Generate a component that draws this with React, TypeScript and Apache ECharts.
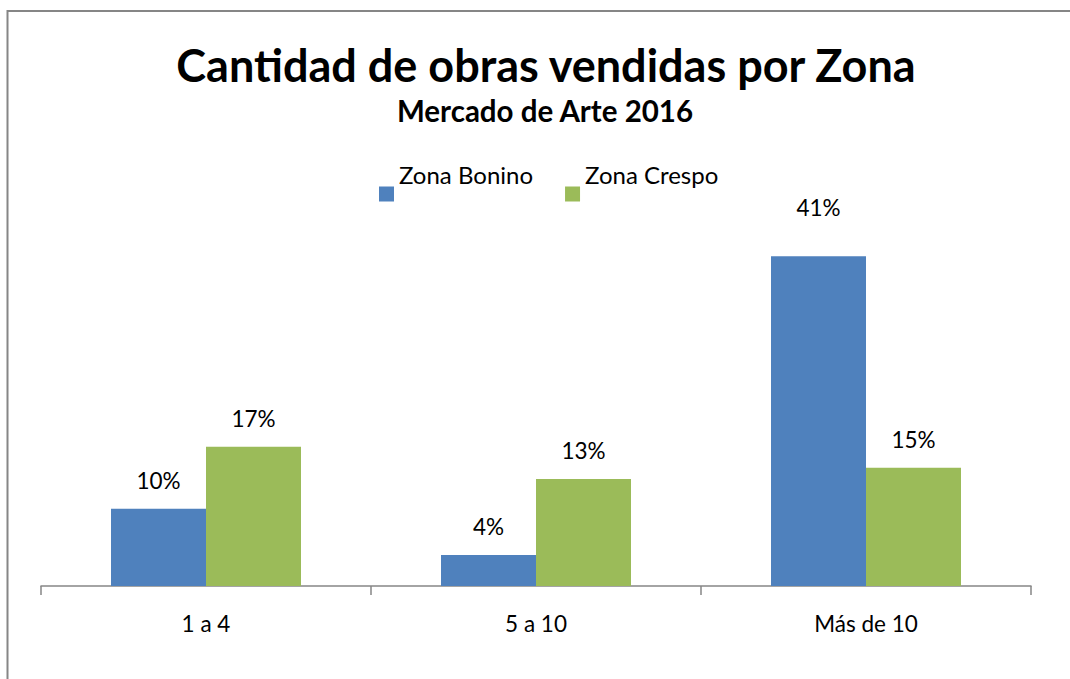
import React, { useEffect, useRef } from "react";
import * as echarts from "echarts";

const categories = ["1 a 4", "5 a 10", "Más de 10"];
const seriesNames = ["Zona Bonino", "Zona Crespo"];
const bonino = [0.096, 0.0385, 0.41];
const crespo = [0.173, 0.133, 0.147];
const titleText = "Cantidad de obras vendidas por Zona";
const subtitleText = "Mercado de Arte 2016";

const FONT = "Lato";

export default function App() {
  const ref = useRef<HTMLDivElement>(null);
  useEffect(() => {
    if (!ref.current) return;
    const chart = echarts.init(ref.current, null, { renderer: "svg" });
    const labelCfg = {
      show: true,
      position: "top" as const,
      distance: 17,
      color: "#000",
      fontFamily: FONT,
      fontSize: 22.5,
      formatter: (p: any) => Math.round(p.value * 100) + "%",
    };
    chart.setOption({
      animation: false,
      backgroundColor: "#fff",
      title: [
        {
          text: titleText,
          left: 541,
          top: 37,
          textAlign: "center",
          textStyle: { fontFamily: FONT, fontWeight: "bold", fontSize: 45, color: "#000" },
        },
        {
          text: subtitleText,
          left: 540,
          top: 90,
          textAlign: "center",
          textStyle: { fontFamily: FONT, fontWeight: "bold", fontSize: 29.5, color: "#000" },
        },
      ],
      legend: {
        data: seriesNames,
        left: 374,
        top: 157,
        itemWidth: 15,
        itemHeight: 15,
        itemGap: 32,
        icon: "rect",
        formatter: (name: string) => `{n|${name}}\n{s| }`,
        textStyle: {
          fontFamily: FONT,
          fontSize: 24,
          color: "#000",
          rich: {
            n: { fontFamily: FONT, fontSize: 24, color: "#000", lineHeight: 28 },
            s: { fontSize: 10, lineHeight: 40, height: 40 },
          },
        },
      },
      grid: { left: 41, right: 39, top: 224, bottom: 93, containLabel: false },
      xAxis: {
        type: "category",
        data: categories,
        axisLine: { lineStyle: { color: "#868686", width: 1.5 } },
        axisTick: { show: true, length: 9, lineStyle: { color: "#868686", width: 1.5 } },
        axisLabel: { color: "#000", fontFamily: FONT, fontSize: 22.5, margin: 26 },
      },
      yAxis: {
        type: "value",
        min: 0,
        max: 0.45,
        show: false,
        splitLine: { show: false },
      },
      graphic: [
        {
          type: "rect",
          shape: { x: 7.5, y: 11, width: 1200, height: 1000 },
          style: { fill: "none", stroke: "#868686", lineWidth: 2 },
          silent: true,
          z: 100,
        },
      ],
      series: [
        {
          name: seriesNames[0],
          type: "bar",
          data: bonino.map((v, i) => (i === 2 ? { value: v, label: { distance: 37 } } : v)),
          barWidth: 95,
          barGap: "0%",
          itemStyle: { color: "#4F81BD" },
          label: labelCfg,
        },
        {
          name: seriesNames[1],
          type: "bar",
          data: crespo,
          barWidth: 95,
          barGap: "0%",
          itemStyle: { color: "#9BBB59" },
          label: labelCfg,
        },
      ],
    });
    return () => chart.dispose();
  }, []);
  return (
    <div style={{ position: "fixed", left: 0, top: 0, width: 1070, height: 679, overflow: "hidden", background: "#fff" }}>
      <div ref={ref} style={{ width: 1070, height: 679 }} />
    </div>
  );
}
